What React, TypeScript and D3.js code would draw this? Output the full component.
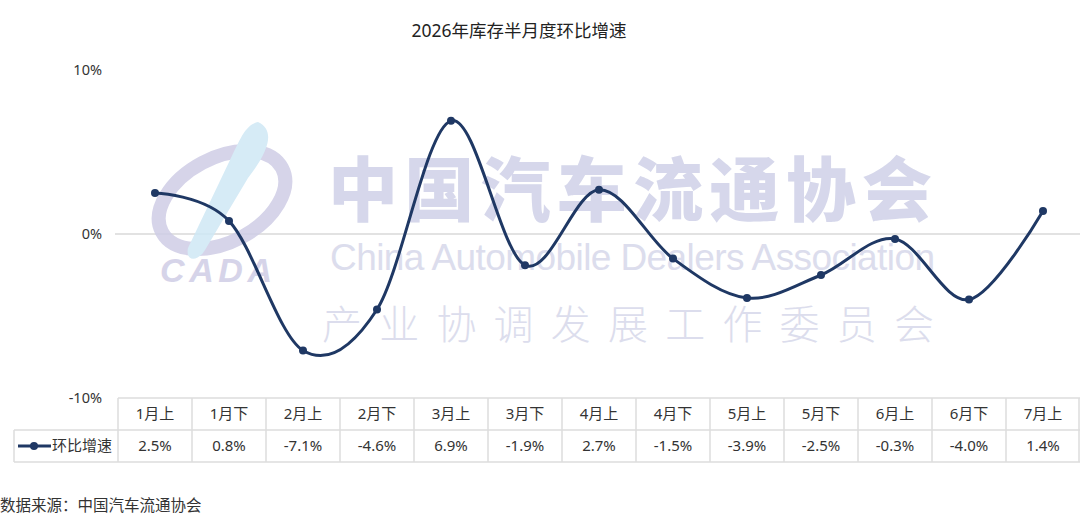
import * as d3 from 'd3';
import React, { useEffect, useRef } from 'react';

const categories = ['1月上', '1月下', '2月上', '2月下', '3月上', '3月下', '4月上', '4月下', '5月上', '5月下', '6月上', '6月下', '7月上'];
const growth = [2.5, 0.8, -7.1, -4.6, 6.9, -1.9, 2.7, -1.5, -3.9, -2.5, -0.3, -4.0, 1.4];
const yTicks = [10, 0, -10];
const seriesName = '环比增速';
const title = '2026年库存半月度环比增速';
const source = '数据来源：中国汽车流通协会';

const W = 1080;
const H = 522;
const FONT = '"Noto Sans", "Noto Sans CJK SC", sans-serif';

function App() {
  const svgRef = useRef<SVGSVGElement>(null);

  useEffect(() => {
    const svg = d3.select(svgRef.current).attr('font-family', FONT);
    svg.selectAll('*').remove();

    const x = d3.scaleBand<string>().domain(categories).range([118, 1080]);
    const y = d3.scaleLinear().domain([-10, 10]).range([398, 70]);
    const cx = (c: string) => (x(c) as number) + x.bandwidth() / 2;

    svg
      .append('text')
      .attr('x', 519)
      .attr('y', 37)
      .attr('text-anchor', 'middle')
      .attr('font-size', 17.5)
      .attr('fill', '#222')
      .text(title);

    // y tick labels
    svg
      .selectAll('.ytick')
      .data(yTicks)
      .join('text')
      .attr('x', 102)
      .attr('y', (d) => y(d))
      .attr('dy', '0.35em')
      .attr('text-anchor', 'end')
      .attr('font-size', 14.5)
      .attr('fill', '#333')
      .text((d) => d + '%');

    svg
      .append('line')
      .attr('x1', 115)
      .attr('x2', W)
      .attr('y1', y(0))
      .attr('y2', y(0))
      .attr('stroke', '#d9d9d9')
      .attr('stroke-width', 1.5);

    // watermark
    const wm = svg.append('g').attr('opacity', 0.85);
    wm.append('ellipse')
      .attr('cx', 222)
      .attr('cy', 200)
      .attr('rx', 68)
      .attr('ry', 42)
      .attr('transform', 'rotate(-28 222 200)')
      .attr('fill', 'none')
      .attr('stroke', '#cfcde6')
      .attr('stroke-width', 14);
    wm.append('path')
      .attr('d', 'M258 122 C275 130 270 150 248 178 L205 250 C198 262 185 262 188 248 L230 160 C240 140 245 125 258 122 Z')
      .attr('fill', '#cfe8f5');
    wm.append('text')
      .attr('x', 160)
      .attr('y', 282)
      .attr('font-size', 34)
      .attr('font-weight', 900)
      .attr('font-style', 'italic')
      .attr('font-family', 'Liberation Sans, sans-serif')
      .attr('fill', '#cfcde6')
      .attr('textLength', 112)
      .text('CADA');
    wm.append('text')
      .attr('x', 328)
      .attr('y', 216)
      .attr('font-size', 70)
      .attr('font-weight', 900)
      .attr('font-family', '"Noto Sans CJK SC", sans-serif')
      .attr('fill', '#cfd1e8')
      .attr('textLength', 604)
      .text('中国汽车流通协会');
    wm.append('text')
      .attr('x', 330)
      .attr('y', 270)
      .attr('font-size', 37)
      .attr('font-family', 'Liberation Sans, sans-serif')
      .attr('fill', '#d6d8ea')
      .attr('textLength', 605)
      .text('China Automobile Dealers Association');
    wm.append('text')
      .attr('x', 322)
      .attr('y', 339)
      .attr('font-size', 40)
      .attr('font-weight', 300)
      .attr('font-family', '"Noto Sans CJK SC", sans-serif')
      .attr('fill', '#d6d8ea')
      .attr('textLength', 612)
      .text('产业协调发展工作委员会');

    const line = d3
      .line<number>()
      .x((d, i) => cx(categories[i]))
      .y((d) => y(d))
      .curve(d3.curveCardinal);

    svg
      .append('path')
      .datum(growth)
      .attr('d', line)
      .attr('fill', 'none')
      .attr('stroke', '#1f3864')
      .attr('stroke-width', 3);

    svg
      .selectAll('.pt')
      .data(growth)
      .join('circle')
      .attr('cx', (d, i) => cx(categories[i]))
      .attr('cy', (d) => y(d))
      .attr('r', 4)
      .attr('fill', '#1f3864');

    // data table
    const grid = '#dcdcdc';
    const top = 398;
    const mid = 430;
    const bot = 462;
    const left = 14;
    const x0 = 118;
    const tb = svg.append('g').attr('stroke', grid).attr('stroke-width', 1.5);
    tb.append('line').attr('x1', x0).attr('x2', W).attr('y1', top).attr('y2', top);
    tb.append('line').attr('x1', left).attr('x2', W).attr('y1', mid).attr('y2', mid);
    tb.append('line').attr('x1', left).attr('x2', W).attr('y1', bot).attr('y2', bot);
    tb.append('line').attr('x1', left).attr('x2', left).attr('y1', mid).attr('y2', bot);
    tb.selectAll('.vl')
      .data(categories)
      .join('line')
      .attr('x1', (d) => x(d) as number)
      .attr('x2', (d) => x(d) as number)
      .attr('y1', top)
      .attr('y2', bot);
    tb.append('line').attr('x1', W - 1).attr('x2', W - 1).attr('y1', top).attr('y2', bot);

    svg
      .selectAll('.hd')
      .data(categories)
      .join('text')
      .attr('x', (d) => cx(d))
      .attr('y', (top + mid) / 2)
      .attr('dy', '0.35em')
      .attr('text-anchor', 'middle')
      .attr('font-size', 15)
      .attr('fill', '#333')
      .text((d) => d);

    svg
      .selectAll('.val')
      .data(growth)
      .join('text')
      .attr('x', (d, i) => cx(categories[i]))
      .attr('y', (mid + bot) / 2)
      .attr('dy', '0.35em')
      .attr('text-anchor', 'middle')
      .attr('font-size', 15)
      .attr('fill', '#333')
      .text((d) => d.toFixed(1) + '%');

    // legend key
    svg
      .append('line')
      .attr('x1', 18)
      .attr('x2', 51)
      .attr('y1', (mid + bot) / 2)
      .attr('y2', (mid + bot) / 2)
      .attr('stroke', '#1f3864')
      .attr('stroke-width', 3);
    svg
      .append('circle')
      .attr('cx', 34)
      .attr('cy', (mid + bot) / 2)
      .attr('r', 4)
      .attr('fill', '#1f3864');
    svg
      .append('text')
      .attr('x', 52)
      .attr('y', (mid + bot) / 2)
      .attr('dy', '0.35em')
      .attr('font-size', 15)
      .attr('fill', '#333')
      .text(seriesName);

    svg
      .append('text')
      .attr('x', 0)
      .attr('y', 511)
      .attr('font-size', 15.5)
      .attr('fill', '#333')
      .text(source);
  }, []);

  return (
    <div style={{ position: 'absolute', left: 0, top: 0 }}>
      <svg ref={svgRef} width={W} height={H} style={{ display: 'block', background: '#fff' }} />
    </div>
  );
}

export default App;
